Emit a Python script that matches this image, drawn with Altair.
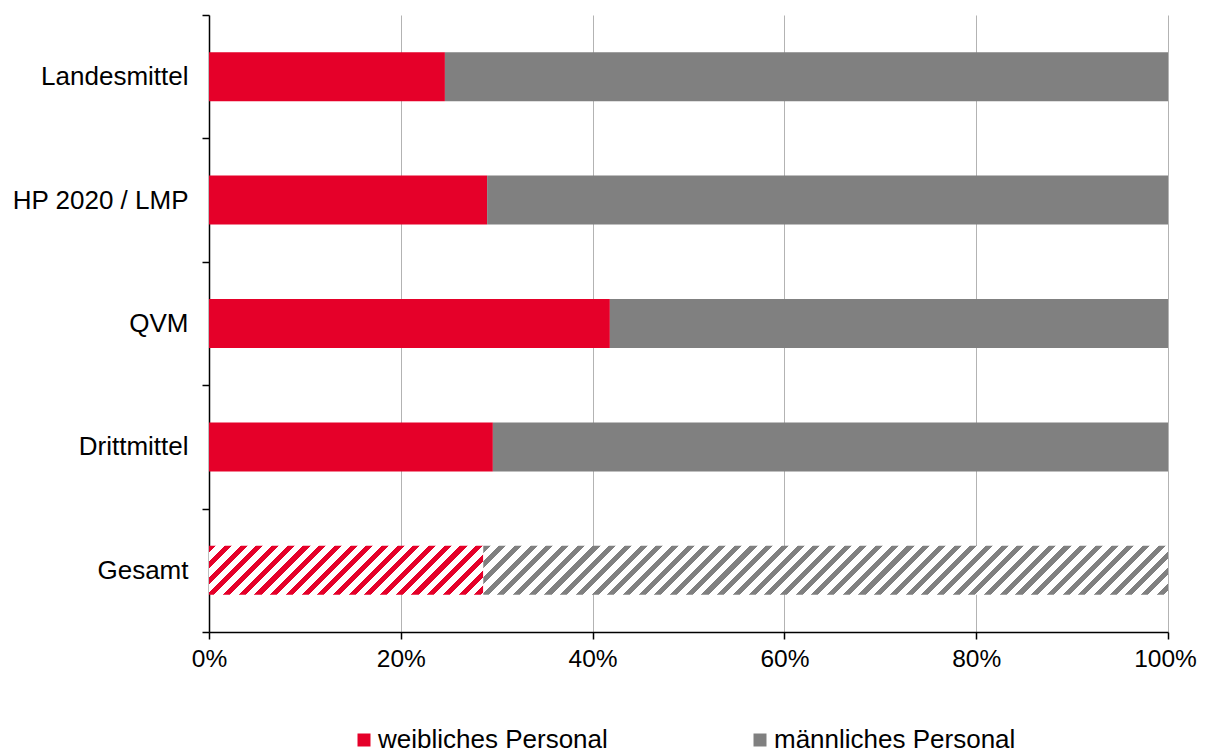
import altair as alt
import pandas as pd

categories = ["Landesmittel", "HP 2020 / LMP", "QVM", "Drittmittel", "Gesamt"]
weiblich = [24.6, 29.0, 41.8, 29.6, 28.6]
series = ["weibliches Personal", "männliches Personal"]
colors = ["#E50029", "#808080"]
x_ticks = [0, 0.2, 0.4, 0.6, 0.8, 1.0]

PLOT_W = 959
PLOT_H = 617
BAR_H = 49
FONT = "Liberation Sans"

rows = []
for c, w in zip(categories, weiblich):
    rows.append({"cat": c, "ser": series[0], "start": 0.0, "end": w / 100, "ord": 0})
    rows.append({"cat": c, "ser": series[1], "start": w / 100, "end": 1.0, "ord": 1})
df = pd.DataFrame(rows)


def hatch(color, frac_w, period=15.7, ink=0.45):
    W = frac_w * PLOT_W
    H = BAR_H
    r = H / W
    k = (1 + r) / (1 + r * r)
    T = period / (W * (1 + r))
    stops = []
    t = 0.0
    while t < 1.0:
        a = min(t + ink * T, 1.0)
        b = min(t + T, 1.0)
        stops += [
            alt.GradientStop(color=color, offset=t),
            alt.GradientStop(color=color, offset=a),
            alt.GradientStop(color="#ffffff", offset=a),
            alt.GradientStop(color="#ffffff", offset=b),
        ]
        t += T
    return alt.Gradient(gradient="linear", x1=0, y1=0, x2=k, y2=k * r, stops=stops)


yenc = alt.Y(
    "cat:N",
    sort=categories,
    scale=alt.Scale(domain=categories, paddingInner=0, paddingOuter=0),
    axis=alt.Axis(
        title=None,
        domain=True,
        domainWidth=1.5,
        tickBand="extent",
        tickSize=7,
        tickWidth=1.5,
        tickColor="#000000",
        domainColor="#000000",
        labelPadding=14,
        labelFontSize=26,
        labelFont=FONT,
        labelColor="#000000",
        grid=False,
    ),
)
xenc = alt.X(
    "start:Q",
    scale=alt.Scale(domain=[0, 1], nice=False),
    axis=alt.Axis(
        title=None,
        values=x_ticks,
        format=".0%",
        domain=True,
        domainWidth=1.5,
        tickSize=7,
        tickWidth=1.5,
        tickColor="#000000",
        domainColor="#000000",
        grid=True,
        gridColor="#b3b3b3",
        gridWidth=1,
        labelFlush=False,
        labelOffset={"condition": {"test": "datum.value >= 1", "value": -3}, "value": 0},
        labelPadding=8,
        labelFontSize=24.5,
        labelFont=FONT,
        labelColor="#000000",
    ),
)

base = alt.Chart(df)

solid = base.transform_filter(alt.datum.cat != "Gesamt").mark_bar(size=BAR_H).encode(
    y=yenc,
    x=xenc,
    x2="end:Q",
    color=alt.Color(
        "ser:N",
        scale=alt.Scale(domain=series, range=colors),
        sort=series,
        legend=alt.Legend(
            title=None,
            orient="none",
            direction="horizontal",
            legendX=142,
            legendY=712,
            symbolType="square",
            symbolSize=169,
            symbolStrokeWidth=0,
            labelFontSize=26,
            labelFont=FONT,
            labelColor="#000000",
            labelOffset=1,
            columnPadding=139,
            padding=0,
            labelLimit=400,
        ),
    ),
)

g = weiblich[categories.index("Gesamt")] / 100
hatch_red = base.transform_filter(
    (alt.datum.cat == "Gesamt") & (alt.datum.ser == series[0])
).mark_bar(size=BAR_H, fill=hatch(colors[0], g)).encode(y=yenc, x=xenc, x2="end:Q")
hatch_gray = base.transform_filter(
    (alt.datum.cat == "Gesamt") & (alt.datum.ser == series[1])
).mark_bar(size=BAR_H, fill=hatch(colors[1], 1 - g)).encode(y=yenc, x=xenc, x2="end:Q")

chart = (
    alt.layer(solid, hatch_red, hatch_gray)
    .properties(
        width=PLOT_W,
        height=PLOT_H,
        autosize=alt.AutoSizeParams(type="none"),
        padding={"left": 201, "top": 7, "right": 29, "bottom": 119},
    )
    .configure_view(stroke=None)
)

chart.save("out.html", embed_options={"renderer": "svg", "actions": False})
